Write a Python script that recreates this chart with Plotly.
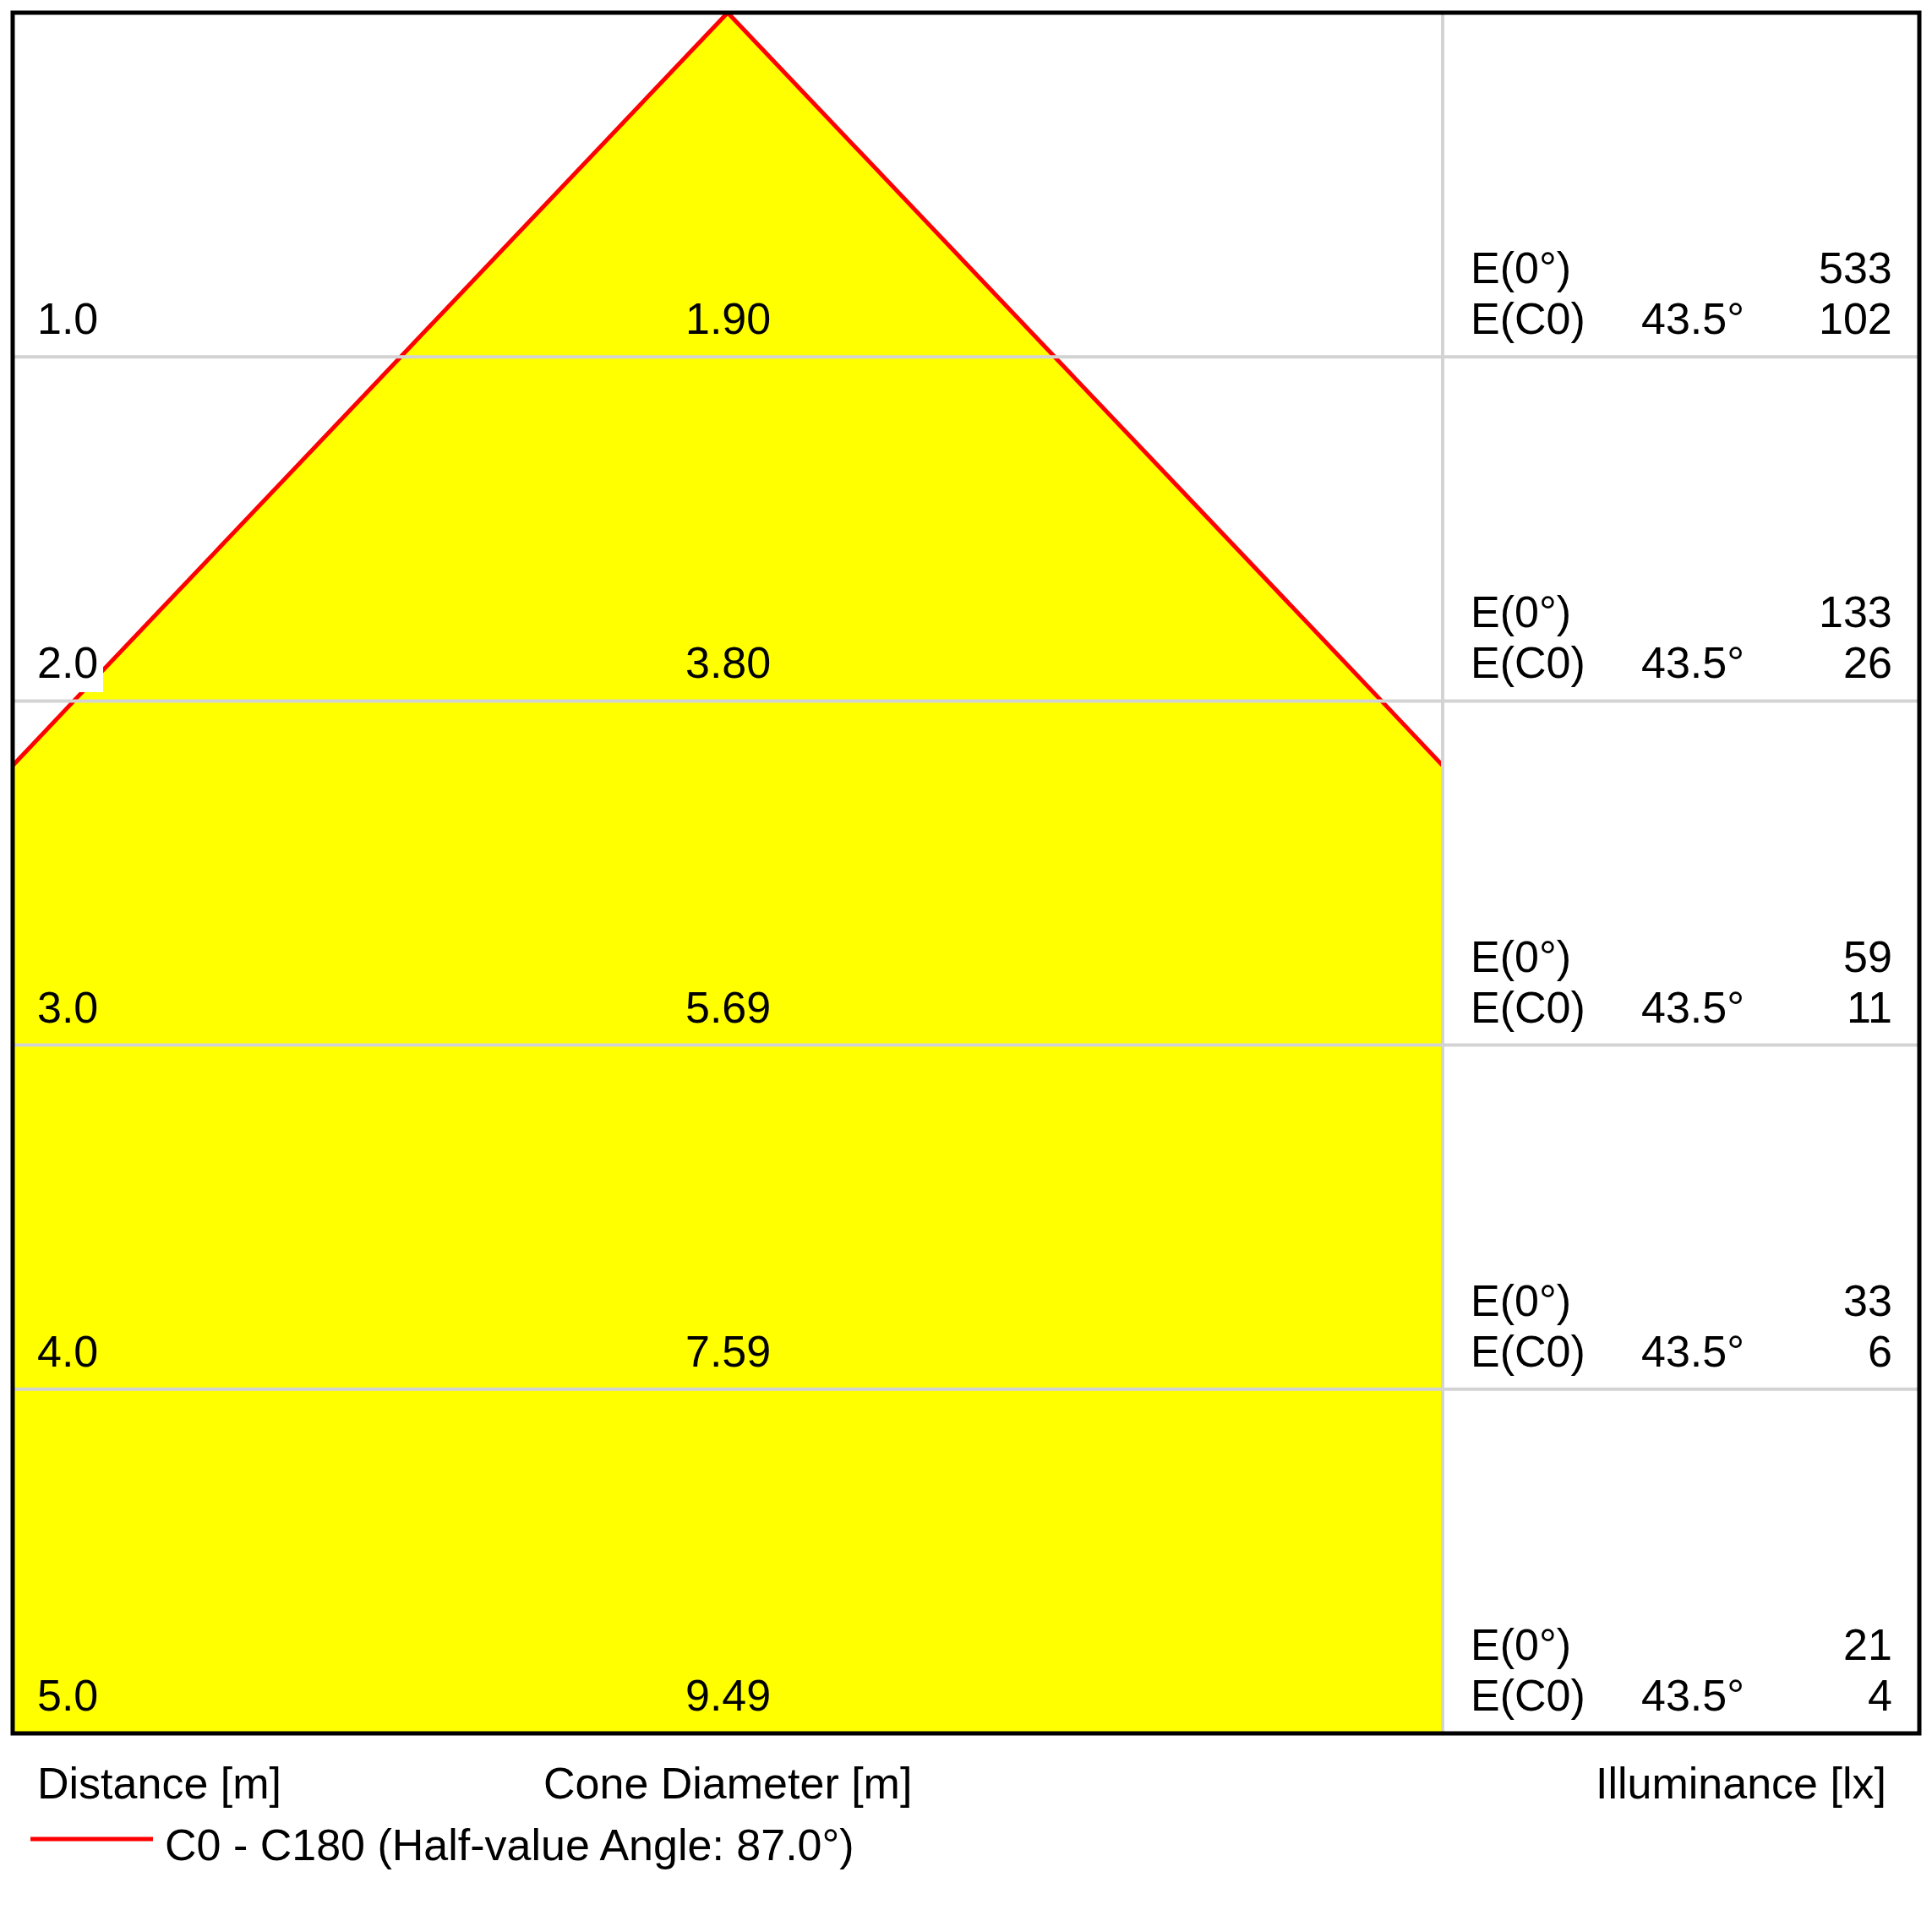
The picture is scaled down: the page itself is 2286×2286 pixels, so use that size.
import plotly.graph_objects as go

# ---------------- data ----------------
distances = [1.0, 2.0, 3.0, 4.0, 5.0]            # m
cone_diameters = [1.90, 3.80, 5.69, 7.59, 9.49]  # m
e_center = [533, 133, 59, 33, 21]                # lx, E(0°)
e_c0 = [102, 26, 11, 6, 4]                       # lx, E(C0) at half angle
c0_angle_label = "43.5°"
legend_label = "C0 - C180 (Half-value Angle: 87.0°)"
dist_labels = ["1.0", "2.0", "3.0", "4.0", "5.0"]
diam_labels = ["1.90", "3.80", "5.69", "7.59", "9.49"]

# ---------------- layout geometry ----------------
BODY = 8                      # default page body margin
W = H = 2270
PL, PT, PR, PB = 15, 15, 2271, 2051   # plot area in page pixels
ML, MT = PL - BODY, PT - BODY
MR = W - (PR - BODY)
MB = H - (PB - BODY)
plot_w = PR - PL
plot_h = PB - PT
cone_frac = 0.75
px_per_m = plot_h / max(distances)
half_x = cone_frac * plot_w / px_per_m / 2

FONT = dict(family="Liberation Sans, Arial, sans-serif", size=52, color="black")
GRAY = "#d3d3d3"


def xp(px):
    return (px - PL) / plot_w


def yp(py):
    return (PB - py) / plot_h


fig = go.Figure()

# cone outline from data (apex at distance 0)
left_x = [-c / 2 for c in reversed(cone_diameters)]
left_y = list(reversed(distances))
right_x = [c / 2 for c in cone_diameters]
right_y = list(distances)
cone_x = left_x + [0] + right_x
cone_y = left_y + [0] + right_y

fig.add_trace(go.Scatter(x=cone_x, y=cone_y, mode="lines", fill="toself",
                         fillcolor="#ffff00", line=dict(width=0),
                         hoverinfo="skip", showlegend=False))
fig.add_trace(go.Scatter(x=cone_x, y=cone_y, mode="lines",
                         line=dict(color="#ff0000", width=5),
                         name=legend_label, showlegend=False))

fig.update_layout(
    width=W, height=H,
    margin=dict(l=ML, r=MR, t=MT, b=MB, pad=0),
    paper_bgcolor="white", plot_bgcolor="white",
    xaxis=dict(domain=[0, cone_frac], range=[-half_x, half_x], visible=False, fixedrange=True),
    xaxis2=dict(domain=[cone_frac, 1], range=[0, 1], visible=False, anchor="y"),
    yaxis=dict(range=[max(distances), 0], visible=False, domain=[0, 1]),
    showlegend=False,
)

shapes = []
for d in distances[:-1]:
    shapes.append(dict(type="line", xref="paper", yref="y", x0=0, x1=1, y0=d, y1=d,
                       line=dict(color=GRAY, width=4), layer="above"))
shapes.append(dict(type="line", xref="paper", yref="paper", x0=cone_frac, x1=cone_frac,
                   y0=0, y1=1, line=dict(color=GRAY, width=4), layer="above"))
shapes.append(dict(type="rect", xref="paper", yref="paper", x0=0, x1=1, y0=0, y1=1,
                   line=dict(color="black", width=5), fillcolor="rgba(0,0,0,0)", layer="above"))
leg_y = yp(2176)
shapes.append(dict(type="line", xref="paper", yref="paper", x0=xp(36), x1=xp(181),
                   y0=leg_y, y1=leg_y, line=dict(color="#ff0000", width=5)))
fig.update_layout(shapes=shapes)


def txt(**kw):
    base = dict(showarrow=False, font=FONT, borderpad=0, borderwidth=0, yanchor="middle")
    base.update(kw)
    return base


ann = []
for i, d in enumerate(distances):
    bg = "white" if cone_diameters[i] / 2 < half_x else "rgba(0,0,0,0)"
    ann.append(txt(x=0, xref="x domain", y=d, yref="y", text=dist_labels[i],
                   xanchor="left", xshift=44 - PL - 6, yshift=45,
                   bgcolor=bg, borderpad=6))
    ann.append(txt(x=0, xref="x", y=d, yref="y", text=diam_labels[i],
                   xanchor="center", yshift=45))
    ann.append(txt(x=xp(1740), xref="paper", y=d, yref="y", text="E(0°)",
                   xanchor="left", yshift=105))
    ann.append(txt(x=xp(1740), xref="paper", y=d, yref="y", text="E(C0)",
                   xanchor="left", yshift=45))
    ann.append(txt(x=xp(1942), xref="paper", y=d, yref="y", text=c0_angle_label,
                   xanchor="left", yshift=45))
    ann.append(txt(x=xp(2239), xref="paper", y=d, yref="y", text=str(e_center[i]),
                   xanchor="right", yshift=105))
    ann.append(txt(x=xp(2239), xref="paper", y=d, yref="y", text=str(e_c0[i]),
                   xanchor="right", yshift=45))

ann.append(txt(x=xp(44), xref="paper", y=0, yref="paper", text="Distance [m]",
               xanchor="left", yshift=-59))
ann.append(txt(x=0, xref="x", y=0, yref="paper", text="Cone Diameter [m]",
               xanchor="center", yshift=-59))
ann.append(txt(x=xp(2232), xref="paper", y=0, yref="paper", text="Illuminance [lx]",
               xanchor="right", yshift=-59))
ann.append(txt(x=xp(195), xref="paper", y=0, yref="paper", text=legend_label,
               xanchor="left", yshift=-132))
fig.update_layout(annotations=ann)

fig.write_html("out.html")
